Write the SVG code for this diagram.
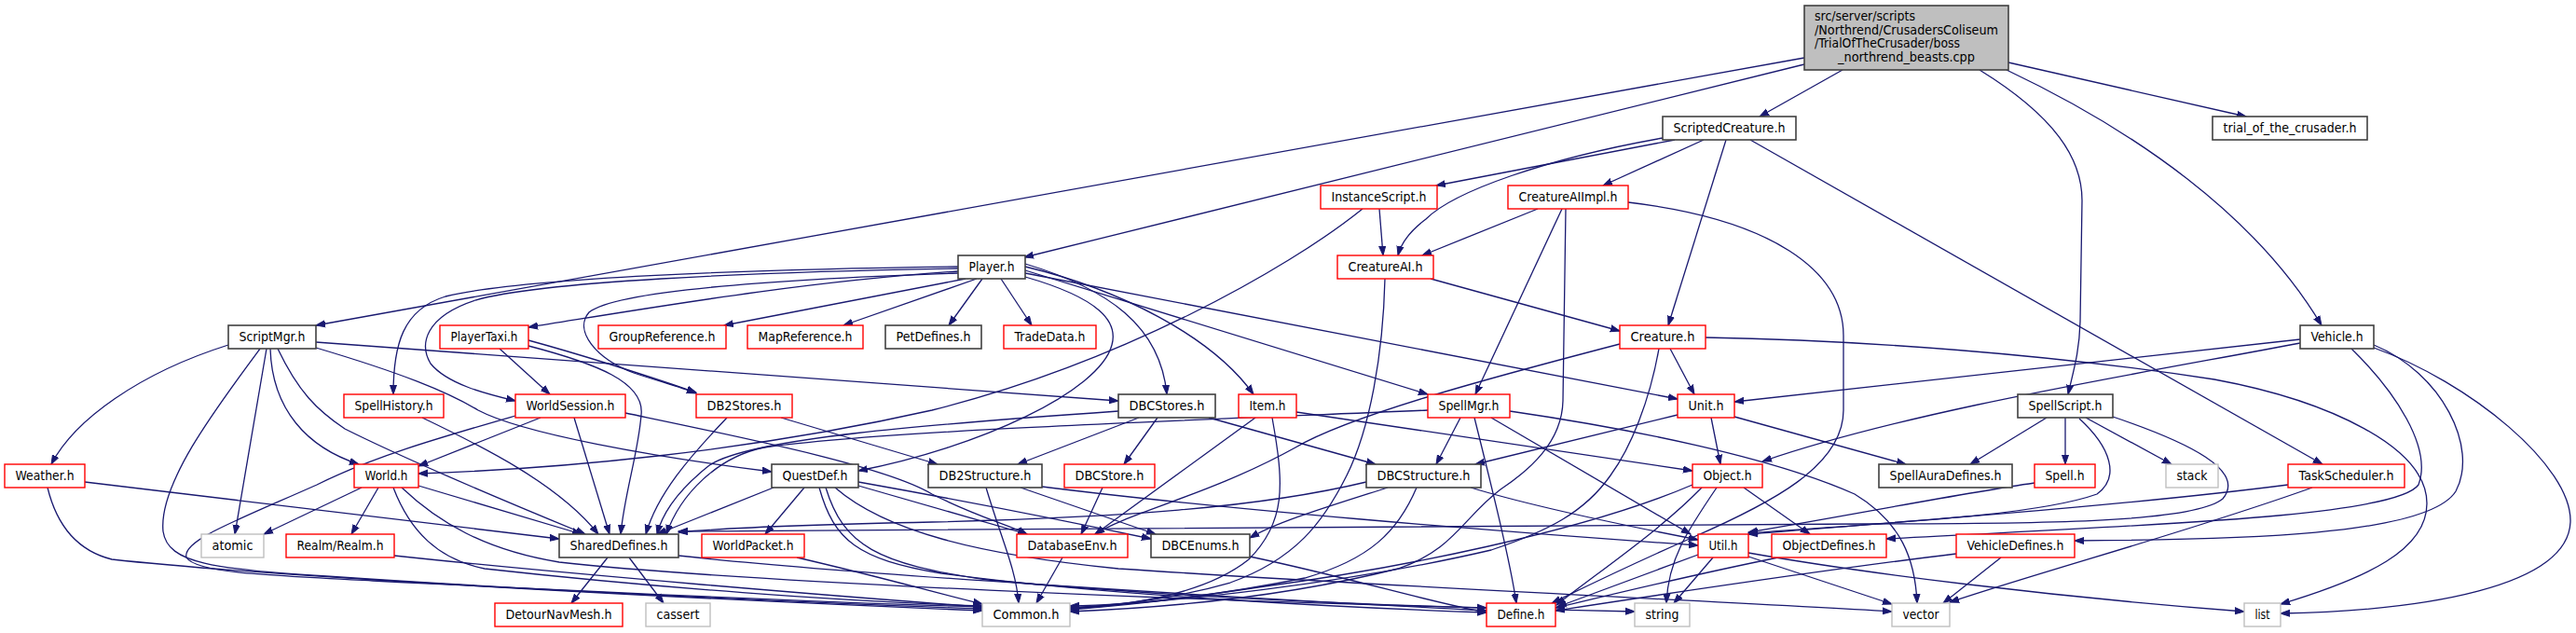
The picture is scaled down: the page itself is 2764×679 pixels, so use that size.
<svg xmlns="http://www.w3.org/2000/svg" width="2764" height="679" viewBox="0 0 2764 679">
<style>
.n rect{fill:#fff;stroke-width:1.6}
.b rect{stroke:#404040}
.r rect{stroke:#ff0000;stroke-width:1.4}
.g rect{stroke:#bfbfbf;stroke-width:1.4}
text{font-family:'DejaVu Sans','Liberation Sans',sans-serif;font-size:14px;fill:#000;text-anchor:middle}
#edges path{fill:none;stroke:#191970;stroke-width:1.3;marker-end:url(#a)}
</style>
<defs>
<marker id="a" markerWidth="11" markerHeight="9" refX="10" refY="4.5" orient="auto" markerUnits="userSpaceOnUse"><path d="M0,1 L10,4.5 L0,8 z" fill="#191970" stroke="#191970" stroke-width="1"/></marker>
</defs>
<rect width="2764" height="679" fill="#fff"/>
<g id="edges">
<path d="M1936,62 L339,349"/>
<path d="M1936,69 L1099,276"/>
<path d="M1977,75 L1888,125"/>
<path d="M2124,75 C2205,125 2234,170 2234,215 L2232,345 C2231,380 2224,400 2219,423"/>
<path d="M2153,75 C2290,140 2420,230 2491,349"/>
<path d="M2155,67 L2410,125"/>
<path d="M1797,150 L1541,199"/>
<path d="M1828,150 L1720,199"/>
<path d="M1784,148 C1660,170 1560,205 1530,235 C1510,250 1503,262 1500,274"/>
<path d="M1852,150 L1790,349"/>
<path d="M1878,150 L2492,498"/>
<path d="M1480,224 L1484,274"/>
<path d="M1462,224 C1380,290 1200,390 1000,440 C800,485 600,503 449,508"/>
<path d="M1650,224 L1526,274"/>
<path d="M1676,224 L1583,423"/>
<path d="M1680,224 L1677,430 C1676,475 1640,505 1610,525 C1570,555 1560,590 1500,610 C1380,640 1250,652 1148,656"/>
<path d="M1747,217 C1900,235 1978,290 1978,360 L1978,440 C1978,500 1900,540 1815,577 C1740,610 1700,630 1665,647"/>
<path d="M1535,299 L1738,355"/>
<path d="M1486,299 C1484,380 1470,460 1445,510 C1420,560 1390,600 1320,625 C1250,645 1190,650 1148,652"/>
<path d="M1792,374 L1818,423"/>
<path d="M1738,369 C1600,405 1450,445 1390,480 C1300,530 1210,550 1175,573"/>
<path d="M1780,374 C1770,430 1750,480 1728,510 C1700,550 1660,570 1600,590 C1450,625 1250,648 1148,650"/>
<path d="M1830,362 C2000,365 2200,380 2376,407 C2500,430 2604,480 2604,540 C2604,590 2540,620 2447,648"/>
<path d="M1028,291 C860,302 700,330 567,351"/>
<path d="M1036,299 L777,349"/>
<path d="M1048,299 L905,349"/>
<path d="M1054,299 L1018,349"/>
<path d="M1074,299 L1107,349"/>
<path d="M1028,286 C800,289 560,298 478,318 C432,332 422,370 422,423"/>
<path d="M1028,288 C800,292 580,302 510,322 C455,340 450,370 462,390 C480,412 520,422 553,430"/>
<path d="M1028,293 C820,300 660,312 632,335 C615,355 640,385 680,400 C710,410 730,415 747,422"/>
<path d="M567,365 C640,385 700,405 747,421"/>
<path d="M567,371 C640,390 692,410 688,445 C685,485 670,530 666,573"/>
<path d="M1100,283 C1190,310 1245,350 1252,423"/>
<path d="M1100,286 C1200,310 1300,360 1345,423"/>
<path d="M1100,290 L1532,423"/>
<path d="M1100,293 L1800,428"/>
<path d="M1100,297 C1180,320 1200,345 1193,370 C1180,420 1050,480 921,505"/>
<path d="M245,370 C150,400 80,450 55,498"/>
<path d="M290,374 C292,440 330,480 385,498"/>
<path d="M286,374 L252,573"/>
<path d="M298,374 C320,420 340,440 370,460 C450,500 560,545 628,573"/>
<path d="M279,374 C230,440 170,520 175,570 C180,605 230,610 350,618 C600,635 900,648 1054,653"/>
<path d="M339,367 L1200,430"/>
<path d="M339,373 C430,400 480,420 513,440 C560,465 700,490 828,506"/>
<path d="M536,374 L590,423"/>
<path d="M453,448 C520,480 600,520 642,573"/>
<path d="M580,448 L449,500"/>
<path d="M616,448 L654,573"/>
<path d="M553,446 C470,470 400,490 340,520 C250,560 195,580 200,598 C210,614 280,617 400,623 C700,638 950,648 1054,651"/>
<path d="M671,443 C800,470 950,500 1000,530 C1050,555 1080,562 1102,573"/>
<path d="M780,448 C740,490 705,530 693,573"/>
<path d="M838,448 L1006,498"/>
<path d="M1222,448 L1092,498"/>
<path d="M1242,448 L1206,498"/>
<path d="M1297,448 L1476,498"/>
<path d="M1200,441 C1000,455 800,470 760,500 C735,520 712,545 705,573"/>
<path d="M1347,448 L1175,573"/>
<path d="M1365,448 C1378,520 1380,560 1340,600 C1290,640 1200,650 1148,653"/>
<path d="M1391,442 L1816,505"/>
<path d="M1567,448 L1541,498"/>
<path d="M1582,448 C1600,520 1620,600 1627,647"/>
<path d="M1600,448 L1814,573"/>
<path d="M1620,441 C1750,460 1900,490 1990,530 C2040,560 2055,600 2057,647"/>
<path d="M1532,440 C1250,452 950,462 820,480 C770,490 730,530 715,573"/>
<path d="M1836,448 L1846,498"/>
<path d="M1800,445 L1583,498"/>
<path d="M1861,447 L2045,498"/>
<path d="M830,523 L705,573"/>
<path d="M863,523 L821,573"/>
<path d="M921,521 L1102,573"/>
<path d="M921,517 C1050,540 1150,560 1235,578"/>
<path d="M879,523 C895,580 920,600 1010,615 C1200,640 1450,652 1595,657"/>
<path d="M886,523 C905,585 940,605 1060,622 C1300,645 1600,653 1754,656"/>
<path d="M896,523 C950,570 1050,595 1200,610 C1500,630 1850,645 2030,656"/>
<path d="M1058,523 C1075,580 1090,610 1093,647"/>
<path d="M1095,523 L1240,573"/>
<path d="M1118,522 C1300,545 1600,570 1822,585"/>
<path d="M1183,523 L1160,573"/>
<path d="M1489,523 C1420,545 1370,560 1341,577"/>
<path d="M1466,517 C1350,545 1200,555 1000,560 C850,563 780,566 728,571"/>
<path d="M1578,523 C1650,545 1750,565 1822,579"/>
<path d="M1520,523 C1500,570 1470,600 1400,620 C1300,640 1200,650 1148,654"/>
<path d="M1341,597 C1450,620 1530,645 1595,657"/>
<path d="M1140,598 L1112,647"/>
<path d="M855,598 C950,620 1000,635 1054,648"/>
<path d="M652,598 L613,647"/>
<path d="M675,598 L712,647"/>
<path d="M728,596 C900,615 1300,640 1595,655"/>
<path d="M423,596 C600,615 900,640 1054,651"/>
<path d="M91,517 L600,578"/>
<path d="M51,523 C60,560 80,590 120,600 C300,620 800,645 1054,655"/>
<path d="M388,523 L283,573"/>
<path d="M406,523 L377,573"/>
<path d="M449,521 L624,573"/>
<path d="M422,523 C440,570 470,600 520,610 C700,630 900,645 1054,650"/>
<path d="M431,523 C470,560 520,590 600,603 C800,625 1300,645 1595,652"/>
<path d="M1816,520 C1700,570 1500,610 1350,630 C1250,645 1190,650 1148,652"/>
<path d="M1826,523 C1780,570 1720,610 1670,649"/>
<path d="M1842,523 C1810,570 1790,600 1788,647"/>
<path d="M1871,523 L1942,573"/>
<path d="M1822,595 L1671,651"/>
<path d="M1838,598 L1796,647"/>
<path d="M1876,597 L2030,648"/>
<path d="M1876,593 C2000,615 2200,640 2408,656"/>
<path d="M1908,598 C1800,620 1720,640 1669,652"/>
<path d="M2099,594 C1950,612 1800,635 1669,655"/>
<path d="M2147,598 L2085,647"/>
<path d="M2481,523 C2350,570 2200,610 2092,646"/>
<path d="M2455,520 C2300,540 2100,555 1876,573"/>
<path d="M2183,518 C2100,530 2000,550 1876,571"/>
<path d="M2196,448 L2114,498"/>
<path d="M2216,448 L2216,498"/>
<path d="M2238,448 L2330,498"/>
<path d="M2231,449 C2265,480 2275,512 2250,530 C2180,555 2000,562 1876,572"/>
<path d="M2267,447 C2350,475 2410,505 2385,535 C2355,560 2200,562 2000,562 C1500,563 1000,566 728,570"/>
<path d="M2468,364 L1861,431"/>
<path d="M2468,368 C2300,400 2050,440 1891,495"/>
<path d="M2547,370 C2620,400 2660,480 2635,527 C2605,575 2400,579 2226,580"/>
<path d="M2547,373 C2650,410 2760,500 2758,560 C2755,630 2600,655 2447,658"/>
<path d="M2523,374 C2570,420 2610,480 2595,520 C2570,555 2300,563 2024,578"/>
</g>
<g id="main" class="n b"><rect x="1936" y="6" width="219" height="69" style="fill:#bfbfbf"/>
<text x="1947" y="22" style="text-anchor:start" textLength="108" lengthAdjust="spacingAndGlyphs">src/server/scripts</text>
<text x="1947" y="37" style="text-anchor:start" textLength="197" lengthAdjust="spacingAndGlyphs">/Northrend/CrusadersColiseum</text>
<text x="1947" y="51" style="text-anchor:start" textLength="156" lengthAdjust="spacingAndGlyphs">/TrialOfTheCrusader/boss</text>
<text x="2045.5" y="66" textLength="147" lengthAdjust="spacingAndGlyphs">_northrend_beasts.cpp</text></g>
<g id="ScriptedCreature" class="n b"><rect x="1784" y="125" width="143" height="25"/><text x="1855.5" y="142" textLength="120" lengthAdjust="spacingAndGlyphs">ScriptedCreature.h</text></g>
<g id="trial" class="n b"><rect x="2374" y="125" width="166" height="25"/><text x="2457" y="142" textLength="143" lengthAdjust="spacingAndGlyphs">trial_of_the_crusader.h</text></g>
<g id="InstanceScript" class="n r"><rect x="1417" y="199" width="125" height="25"/><text x="1479.5" y="216" textLength="102" lengthAdjust="spacingAndGlyphs">InstanceScript.h</text></g>
<g id="CreatureAIImpl" class="n r"><rect x="1618" y="199" width="129" height="25"/><text x="1682.5" y="216" textLength="106" lengthAdjust="spacingAndGlyphs">CreatureAIImpl.h</text></g>
<g id="Player" class="n b"><rect x="1028" y="274" width="72" height="25"/><text x="1064" y="291" textLength="49" lengthAdjust="spacingAndGlyphs">Player.h</text></g>
<g id="CreatureAI" class="n r"><rect x="1435" y="274" width="103" height="25"/><text x="1486.5" y="291" textLength="80" lengthAdjust="spacingAndGlyphs">CreatureAI.h</text></g>
<g id="ScriptMgr" class="n b"><rect x="245" y="349" width="94" height="25"/><text x="292" y="366" textLength="71" lengthAdjust="spacingAndGlyphs">ScriptMgr.h</text></g>
<g id="PlayerTaxi" class="n r"><rect x="472" y="349" width="95" height="25"/><text x="519.5" y="366" textLength="72" lengthAdjust="spacingAndGlyphs">PlayerTaxi.h</text></g>
<g id="GroupReference" class="n r"><rect x="642" y="349" width="137" height="25"/><text x="710.5" y="366" textLength="114" lengthAdjust="spacingAndGlyphs">GroupReference.h</text></g>
<g id="MapReference" class="n r"><rect x="802" y="349" width="124" height="25"/><text x="864" y="366" textLength="101" lengthAdjust="spacingAndGlyphs">MapReference.h</text></g>
<g id="PetDefines" class="n b"><rect x="950" y="349" width="103" height="25"/><text x="1001.5" y="366" textLength="80" lengthAdjust="spacingAndGlyphs">PetDefines.h</text></g>
<g id="TradeData" class="n r"><rect x="1077" y="349" width="99" height="25"/><text x="1126.5" y="366" textLength="76" lengthAdjust="spacingAndGlyphs">TradeData.h</text></g>
<g id="Creature" class="n r"><rect x="1738" y="349" width="92" height="25"/><text x="1784" y="366" textLength="69" lengthAdjust="spacingAndGlyphs">Creature.h</text></g>
<g id="Vehicle" class="n b"><rect x="2468" y="349" width="79" height="25"/><text x="2507.5" y="366" textLength="56" lengthAdjust="spacingAndGlyphs">Vehicle.h</text></g>
<g id="SpellHistory" class="n r"><rect x="369" y="423" width="107" height="25"/><text x="422.5" y="440" textLength="84" lengthAdjust="spacingAndGlyphs">SpellHistory.h</text></g>
<g id="WorldSession" class="n r"><rect x="553" y="423" width="118" height="25"/><text x="612" y="440" textLength="95" lengthAdjust="spacingAndGlyphs">WorldSession.h</text></g>
<g id="DB2Stores" class="n r"><rect x="747" y="423" width="103" height="25"/><text x="798.5" y="440" textLength="80" lengthAdjust="spacingAndGlyphs">DB2Stores.h</text></g>
<g id="DBCStores" class="n b"><rect x="1200" y="423" width="104" height="25"/><text x="1252" y="440" textLength="81" lengthAdjust="spacingAndGlyphs">DBCStores.h</text></g>
<g id="Item" class="n r"><rect x="1329" y="423" width="62" height="25"/><text x="1360" y="440" textLength="39" lengthAdjust="spacingAndGlyphs">Item.h</text></g>
<g id="SpellMgr" class="n r"><rect x="1532" y="423" width="88" height="25"/><text x="1576" y="440" textLength="65" lengthAdjust="spacingAndGlyphs">SpellMgr.h</text></g>
<g id="Unit" class="n r"><rect x="1800" y="423" width="61" height="25"/><text x="1830.5" y="440" textLength="38" lengthAdjust="spacingAndGlyphs">Unit.h</text></g>
<g id="SpellScript" class="n b"><rect x="2165" y="423" width="102" height="25"/><text x="2216" y="440" textLength="79" lengthAdjust="spacingAndGlyphs">SpellScript.h</text></g>
<g id="Weather" class="n r"><rect x="5" y="498" width="86" height="25"/><text x="48" y="515" textLength="63" lengthAdjust="spacingAndGlyphs">Weather.h</text></g>
<g id="World" class="n r"><rect x="380" y="498" width="69" height="25"/><text x="414.5" y="515" textLength="46" lengthAdjust="spacingAndGlyphs">World.h</text></g>
<g id="QuestDef" class="n b"><rect x="828" y="498" width="93" height="25"/><text x="874.5" y="515" textLength="70" lengthAdjust="spacingAndGlyphs">QuestDef.h</text></g>
<g id="DB2Structure" class="n b"><rect x="996" y="498" width="122" height="25"/><text x="1057" y="515" textLength="99" lengthAdjust="spacingAndGlyphs">DB2Structure.h</text></g>
<g id="DBCStore" class="n r"><rect x="1142" y="498" width="97" height="25"/><text x="1190.5" y="515" textLength="74" lengthAdjust="spacingAndGlyphs">DBCStore.h</text></g>
<g id="DBCStructure" class="n b"><rect x="1466" y="498" width="123" height="25"/><text x="1527.5" y="515" textLength="100" lengthAdjust="spacingAndGlyphs">DBCStructure.h</text></g>
<g id="Object" class="n r"><rect x="1816" y="498" width="75" height="25"/><text x="1853.5" y="515" textLength="52" lengthAdjust="spacingAndGlyphs">Object.h</text></g>
<g id="SpellAuraDefines" class="n b"><rect x="2016" y="498" width="143" height="25"/><text x="2087.5" y="515" textLength="120" lengthAdjust="spacingAndGlyphs">SpellAuraDefines.h</text></g>
<g id="Spell" class="n r"><rect x="2183" y="498" width="65" height="25"/><text x="2215.5" y="515" textLength="42" lengthAdjust="spacingAndGlyphs">Spell.h</text></g>
<g id="stack" class="n g"><rect x="2324" y="498" width="56" height="25"/><text x="2352" y="515" textLength="33" lengthAdjust="spacingAndGlyphs">stack</text></g>
<g id="TaskScheduler" class="n r"><rect x="2455" y="498" width="125" height="25"/><text x="2517.5" y="515" textLength="102" lengthAdjust="spacingAndGlyphs">TaskScheduler.h</text></g>
<g id="atomic" class="n g"><rect x="216" y="573" width="67" height="25"/><text x="249.5" y="590" textLength="44" lengthAdjust="spacingAndGlyphs">atomic</text></g>
<g id="Realm" class="n r"><rect x="307" y="573" width="116" height="25"/><text x="365" y="590" textLength="93" lengthAdjust="spacingAndGlyphs">Realm/Realm.h</text></g>
<g id="SharedDefines" class="n b"><rect x="600" y="573" width="128" height="25"/><text x="664" y="590" textLength="105" lengthAdjust="spacingAndGlyphs">SharedDefines.h</text></g>
<g id="WorldPacket" class="n r"><rect x="753" y="573" width="110" height="25"/><text x="808" y="590" textLength="87" lengthAdjust="spacingAndGlyphs">WorldPacket.h</text></g>
<g id="DatabaseEnv" class="n r"><rect x="1091" y="573" width="119" height="25"/><text x="1150.5" y="590" textLength="96" lengthAdjust="spacingAndGlyphs">DatabaseEnv.h</text></g>
<g id="DBCEnums" class="n b"><rect x="1235" y="573" width="106" height="25"/><text x="1288" y="590" textLength="83" lengthAdjust="spacingAndGlyphs">DBCEnums.h</text></g>
<g id="Util" class="n r"><rect x="1822" y="573" width="54" height="25"/><text x="1849" y="590" textLength="31" lengthAdjust="spacingAndGlyphs">Util.h</text></g>
<g id="ObjectDefines" class="n r"><rect x="1901" y="573" width="123" height="25"/><text x="1962.5" y="590" textLength="100" lengthAdjust="spacingAndGlyphs">ObjectDefines.h</text></g>
<g id="VehicleDefines" class="n r"><rect x="2099" y="573" width="127" height="25"/><text x="2162.5" y="590" textLength="104" lengthAdjust="spacingAndGlyphs">VehicleDefines.h</text></g>
<g id="DetourNavMesh" class="n r"><rect x="531" y="647" width="137" height="25"/><text x="599.5" y="664" textLength="114" lengthAdjust="spacingAndGlyphs">DetourNavMesh.h</text></g>
<g id="cassert" class="n g"><rect x="693" y="647" width="69" height="25"/><text x="727.5" y="664" textLength="46" lengthAdjust="spacingAndGlyphs">cassert</text></g>
<g id="Common" class="n g"><rect x="1054" y="647" width="94" height="25"/><text x="1101" y="664" textLength="71" lengthAdjust="spacingAndGlyphs">Common.h</text></g>
<g id="Define" class="n r"><rect x="1595" y="647" width="74" height="25"/><text x="1632" y="664" textLength="51" lengthAdjust="spacingAndGlyphs">Define.h</text></g>
<g id="string" class="n g"><rect x="1754" y="647" width="59" height="25"/><text x="1783.5" y="664" textLength="36" lengthAdjust="spacingAndGlyphs">string</text></g>
<g id="vector" class="n g"><rect x="2030" y="647" width="62" height="25"/><text x="2061" y="664" textLength="39" lengthAdjust="spacingAndGlyphs">vector</text></g>
<g id="list" class="n g"><rect x="2408" y="647" width="39" height="25"/><text x="2427.5" y="664" textLength="16" lengthAdjust="spacingAndGlyphs">list</text></g>
</svg>
